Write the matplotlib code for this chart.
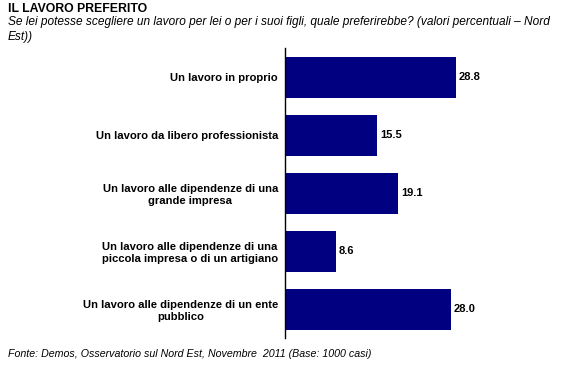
import matplotlib
matplotlib.use("Agg")
import matplotlib.pyplot as plt
import numpy as np

plt.rcParams['font.family'] = ['Liberation Sans', 'DejaVu Sans']

categories = [
    "Un lavoro in proprio",
    "Un lavoro da libero professionista",
    "Un lavoro alle dipendenze di una\ngrande impresa",
    "Un lavoro alle dipendenze di una\npiccola impresa o di un artigiano",
    "Un lavoro alle dipendenze di un ente\npubblico",
]
values = [28.8, 15.5, 19.1, 8.6, 28.0]

title = "IL LAVORO PREFERITO"
subtitle = ("Se lei potesse scegliere un lavoro per lei o per i suoi figli, quale preferirebbe? (valori percentuali \u2013 Nord\n"
            "Est))")
source = "Fonte: Demos, Osservatorio sul Nord Est, Novembre  2011 (Base: 1000 casi)"

fig = plt.figure(figsize=(5.74, 3.69), dpi=100)
ax = fig.add_axes([0.4965, 0.0827, 0.40, 0.786])

y = np.arange(len(categories))
ax.barh(y, values, height=0.71, color="#000080")
ax.set_ylim(len(categories) - 0.5, -0.5)
ax.set_xlim(0, 38.7)

for yi, v in zip(y, values):
    ax.text(v + 0.5, yi, f"{v:.1f}", va="center", ha="left",
            fontsize=8, fontweight="bold")

ax.set_yticks(y)
ax.set_yticklabels(categories, fontsize=8.15, fontweight="bold", multialignment="center")
ax.tick_params(axis="y", length=0, pad=5)
ax.set_xticks([])
for side in ["top", "right", "bottom"]:
    ax.spines[side].set_visible(False)
ax.spines["left"].set_linewidth(1.0)

fig.text(8 / 574, 1 - 3 / 369, title, fontsize=8.8, fontweight="bold", va="top", ha="left")
fig.text(8 / 574, 1 - 16 / 369, subtitle, fontsize=8.6, style="italic", va="top", ha="left",
         linespacing=1.3)
fig.text(8 / 574, 1 - 354 / 369, source, fontsize=7.7, style="italic", va="center", ha="left")

fig.savefig("out.png", dpi=100)
